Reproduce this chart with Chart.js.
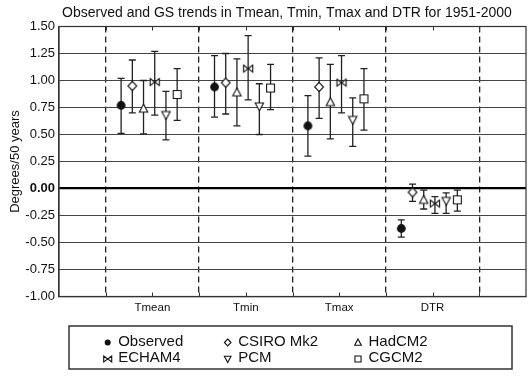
<!DOCTYPE html>
<html><head><meta charset="utf-8">
<script src="https://cdn.jsdelivr.net/npm/chart.js@4.4.1/dist/chart.umd.min.js"></script>
<style>html,body{margin:0;padding:0;background:#fff}canvas{display:block}</style>
</head><body>
<canvas id="c" width="532" height="376"></canvas>
<script>
// ---- data ----
const categories = ['Tmean', 'Tmin', 'Tmax', 'DTR'];
const seriesNames = ['Observed', 'CSIRO Mk2', 'HadCM2', 'ECHAM4', 'PCM', 'CGCM2'];
const chartTitle = 'Observed and GS trends in Tmean, Tmin, Tmax and DTR for 1951-2000';
const yTitle = 'Degrees/50 years';

const observed     = [0.77, 0.94, 0.58, -0.37];
const observedLow  = [0.51, 0.66, 0.30, -0.45];
const observedHigh = [1.02, 1.23, 0.86, -0.29];

const csiro     = [0.95, 0.98, 0.94, -0.035];
const csiroLow  = [0.70, 0.69, 0.65, -0.12];
const csiroHigh = [1.19, 1.25, 1.21, 0.04];

const hadcm2     = [0.74, 0.89, 0.80, -0.105];
const hadcm2Low  = [0.505, 0.58, 0.46, -0.19];
const hadcm2High = [1.00, 1.20, 1.15, -0.015];

const echam4     = [0.985, 1.11, 0.98, -0.14];
const echam4Low  = [0.68, 0.82, 0.70, -0.23];
const echam4High = [1.27, 1.415, 1.23, -0.075];

const pcm     = [0.68, 0.76, 0.635, -0.115];
const pcmLow  = [0.45, 0.50, 0.39, -0.23];
const pcmHigh = [0.90, 0.97, 0.84, -0.04];

const cgcm2     = [0.87, 0.93, 0.83, -0.105];
const cgcm2Low  = [0.63, 0.73, 0.54, -0.21];
const cgcm2High = [1.11, 1.15, 1.11, -0.015];

const yMin = -1.0, yMax = 1.5, yStep = 0.25;

// ---- styling / layout ----
const FONT = '"Liberation Sans", Arial, Helvetica, sans-serif';
const INK = '#111';
const seriesValues = [observed, csiro, hadcm2, echam4, pcm, cgcm2];
const seriesLows = [observedLow, csiroLow, hadcm2Low, echam4Low, pcmLow, cgcm2Low];
const seriesHighs = [observedHigh, csiroHigh, hadcm2High, echam4High, pcmHigh, cgcm2High];
const markerKinds = ['circle', 'diamond', 'triangle', 'bowtie', 'invtriangle', 'square'];
const groupOffsets = [-0.335, -0.215, -0.095, 0.025, 0.145, 0.265];

function drawMarker(ctx, kind, x, y, s) {
  ctx.save();
  ctx.lineWidth = 1.1;
  ctx.strokeStyle = INK;
  ctx.fillStyle = '#fff';
  ctx.beginPath();
  if (kind === 'circle') {
    ctx.arc(x, y, s, 0, Math.PI * 2);
    ctx.fillStyle = INK; ctx.fill();
    ctx.restore(); return;
  } else if (kind === 'diamond') {
    ctx.moveTo(x, y - s); ctx.lineTo(x + s * 0.95, y); ctx.lineTo(x, y + s); ctx.lineTo(x - s * 0.95, y); ctx.closePath();
  } else if (kind === 'triangle') {
    ctx.moveTo(x, y - s); ctx.lineTo(x + s * 0.95, y + s * 0.8); ctx.lineTo(x - s * 0.95, y + s * 0.8); ctx.closePath();
  } else if (kind === 'invtriangle') {
    ctx.moveTo(x, y + s); ctx.lineTo(x + s * 0.95, y - s * 0.8); ctx.lineTo(x - s * 0.95, y - s * 0.8); ctx.closePath();
  } else if (kind === 'square') {
    ctx.rect(x - s * 0.9, y - s * 0.9, s * 1.8, s * 1.8);
  } else if (kind === 'bowtie') {
    const h = s * 0.75;
    ctx.moveTo(x - s, y - h); ctx.lineTo(x, y); ctx.lineTo(x - s, y + h); ctx.closePath();
    ctx.moveTo(x + s, y - h); ctx.lineTo(x, y); ctx.lineTo(x + s, y + h); ctx.closePath();
  }
  ctx.fill(); ctx.stroke();
  ctx.restore();
}

function markerCanvas(kind, s) {
  const c = document.createElement('canvas');
  const d = Math.ceil(s * 2 + 4);
  c.width = d; c.height = d;
  drawMarker(c.getContext('2d'), kind, d / 2, d / 2, s);
  return c;
}
const plotSizes = [4.4, 4.6, 4.4, 4.6, 4.4, 4.4];
const legendSizes = [3.0, 3.5, 3.5, 4.0, 3.5, 3.4];

const datasets = seriesNames.map((name, k) => ({
  label: name,
  data: categories.map((c, i) => ({ x: i + 1 + groupOffsets[k], y: seriesValues[k][i] })),
  pointStyle: markerCanvas(markerKinds[k], plotSizes[k]),
  pointRadius: 5,
  showLine: false
}));

const errorBars = {
  id: 'errorBars',
  beforeDatasetsDraw(chart) {
    const { ctx, scales: { x, y } } = chart;
    ctx.save();
    ctx.strokeStyle = '#222';
    ctx.lineWidth = 1.3;
    seriesNames.forEach((n, k) => {
      categories.forEach((c, i) => {
        const px = x.getPixelForValue(i + 1 + groupOffsets[k]);
        const yh = y.getPixelForValue(seriesHighs[k][i]);
        const yl = y.getPixelForValue(seriesLows[k][i]);
        ctx.beginPath();
        ctx.moveTo(px, yh); ctx.lineTo(px, yl);
        ctx.moveTo(px - 3.5, yh); ctx.lineTo(px + 3.5, yh);
        ctx.moveTo(px - 3.5, yl); ctx.lineTo(px + 3.5, yl);
        ctx.stroke();
      });
    });
    ctx.restore();
  }
};

const frame = {
  id: 'frame',
  afterDraw(chart) {
    const { ctx, chartArea: a, scales: { x } } = chart;
    ctx.save();
    // title
    ctx.font = '14px ' + FONT;
    ctx.fillStyle = INK;
    ctx.textAlign = 'center';
    ctx.textBaseline = 'middle';
    ctx.fillText(chartTitle, 287, 13);
    ctx.textAlign = 'left';
    // frame
    ctx.strokeStyle = '#333';
    ctx.lineWidth = 1.2;
    ctx.strokeRect(a.left, a.top, a.right - a.left, a.bottom - a.top);
    ctx.lineWidth = 1;
    ctx.beginPath();
    x.ticks.forEach(t => {
      if (t.value <= x.min || t.value >= x.max) return;
      const px = Math.round(x.getPixelForValue(t.value)) + 0.5;
      ctx.moveTo(px, a.top); ctx.lineTo(px, a.top + 4);
      ctx.moveTo(px, a.bottom); ctx.lineTo(px, a.bottom - 4);
    });
    ctx.stroke();
    // legend box
    ctx.lineWidth = 1.5;
    ctx.strokeStyle = '#333';
    ctx.strokeRect(69, 326, 443, 43);
    ctx.font = '15px ' + FONT;
    ctx.fillStyle = INK;
    ctx.textBaseline = 'middle';
    const colMarker = [107.7, 227.7, 358];
    const rowY = [341.5, 358];
    seriesNames.forEach((n, k) => {
      const col = k % 3, row = Math.floor(k / 3);
      drawMarker(ctx, markerKinds[k], colMarker[col], rowY[row] + 1, legendSizes[k]);
      ctx.fillText(n, colMarker[col] + 10.5, rowY[row]);
    });
    ctx.restore();
  }
};

new Chart(document.getElementById('c'), {
  type: 'scatter',
  data: { datasets },
  plugins: [errorBars, frame],
  options: {
    responsive: false,
    animation: false,
    events: [],
    layout: { padding: { top: 26.5, left: 8, right: 6, bottom: 57.5 } },
    plugins: {
      legend: { display: false },
      tooltip: { enabled: false },
      title: { display: false }
    },
    scales: {
      x: {
        type: 'linear', min: 0, max: 5,
        afterFit: s => { s.height = 22; },
        ticks: {
          stepSize: 0.5, autoSkip: false, maxRotation: 0, padding: 4,
          color: INK, font: { family: FONT, size: 11.5 },
          callback: v => (Number.isInteger(v) && v >= 1 && v <= categories.length) ? categories[v - 1] : ''
        },
        grid: {
          drawTicks: false,
          lineWidth: 1.3,
          color: c => (c.tick && Math.abs(c.tick.value % 1 - 0.5) < 1e-6) ? '#222' : 'rgba(0,0,0,0)'
        },
        border: { display: true, color: '#333', width: 1.2, dash: [6, 4] }
      },
      y: {
        min: yMin, max: yMax,
        afterFit: s => { s.width = 51; },
        ticks: {
          stepSize: yStep, padding: 4, color: INK,
          font: c => ({ family: FONT, size: 13, weight: (c.tick && c.tick.value === 0) ? 'bold' : 'normal' }),
          callback: v => v.toFixed(2)
        },
        grid: {
          drawTicks: false,
          color: c => (c.tick && c.tick.value === 0) ? '#000' : '#444',
          lineWidth: c => (c.tick && c.tick.value === 0) ? 2.2 : 1.1
        },
        border: { display: true, color: '#333', width: 1.2 },
        title: {
          display: true, text: yTitle, color: INK,
          font: { family: FONT, size: 13 }, padding: { top: 0, bottom: 0 }
        }
      }
    }
  }
});
</script>
</body></html>
